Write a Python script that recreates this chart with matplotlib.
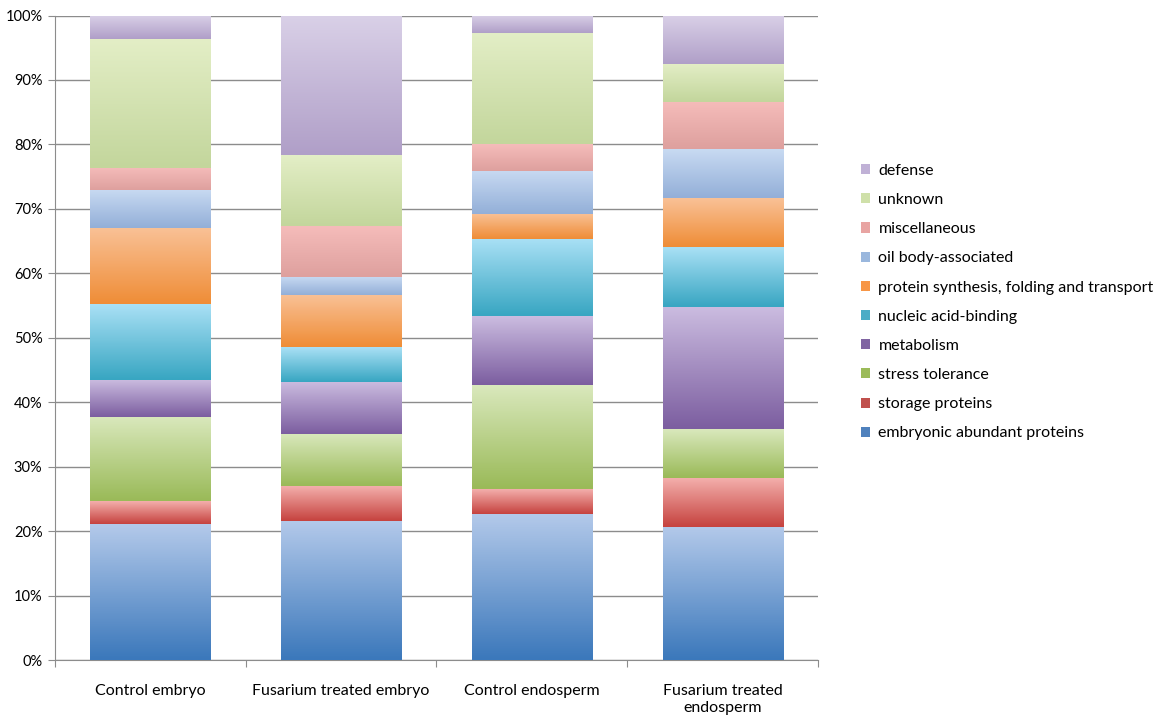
import numpy as np
import matplotlib.pyplot as plt
from matplotlib.colors import LinearSegmentedColormap
from matplotlib.patches import Patch

plt.rcParams['font.family'] = ['Lato', 'DejaVu Sans']

# --------------------------------------------------------
# Data (percent of proteins per functional class)
# --------------------------------------------------------
samples = ['Control embryo', 'Fusarium treated embryo',
           'Control endosperm', 'Fusarium treated\nendosperm']

classes = ['embryonic abundant proteins', 'storage proteins', 'stress tolerance',
           'metabolism', 'nucleic acid-binding',
           'protein synthesis, folding and transport', 'oil body-associated',
           'miscellaneous', 'unknown', 'defense']

embryonic = [21.1, 21.6, 22.7, 20.7]
storage = [3.5, 5.4, 3.8, 7.5]
stress = [13.1, 8.1, 16.1, 7.6]
metabolism = [5.8, 8.1, 10.7, 19.0]
nucleic = [11.7, 5.3, 12.0, 9.3]
protein_synth = [11.8, 8.1, 3.9, 7.6]
oil_body = [5.9, 2.8, 6.7, 7.6]
misc = [3.5, 7.9, 4.1, 7.3]
unknown = [20.0, 11.0, 17.3, 5.9]
defense = [3.6, 21.7, 2.7, 7.5]

series = [embryonic, storage, stress, metabolism, nucleic,
          protein_synth, oil_body, misc, unknown, defense]

# (top colour, bottom colour) for the Excel-like gradient fills
grad_colors = [
    ('#b3c9ea', '#3b78bb'),
    ('#f3aeab', '#c6433f'),
    ('#d9e8bc', '#9aba58'),
    ('#cbbce0', '#7c5ea0'),
    ('#a9e0f5', '#38a6c2'),
    ('#f9c196', '#ef8d37'),
    ('#c8daf2', '#93afd8'),
    ('#f5bcba', '#dea09e'),
    ('#e3eec6', '#c3d69c'),
    ('#d9d0e7', '#b09fc8'),
]
legend_colors = ['#4f81bd', '#c0504d', '#9bbb59', '#8064a2', '#4bacc6',
                 '#f79646', '#9ab7dd', '#e8a4a2', '#cfe0a9', '#c0b1d6']

# --------------------------------------------------------
# Plot
# --------------------------------------------------------
fig = plt.figure(figsize=(11.66, 7.21), dpi=100)
ax = fig.add_axes([0.0472, 0.0846, 0.6543, 0.8939])

x = np.arange(len(samples))
width = 0.63
bottom = np.zeros(len(samples))
for vals, (c_top, c_bot) in zip(series, grad_colors):
    bars = ax.bar(x, vals, width, bottom=bottom, color=c_bot, zorder=2)
    cmap = LinearSegmentedColormap.from_list('g', [c_bot, c_top])
    grad = np.linspace(0, 1, 64).reshape(-1, 1)
    for b in bars:
        x0, y0, w, h = b.get_x(), b.get_y(), b.get_width(), b.get_height()
        ax.imshow(grad, cmap=cmap, aspect='auto', origin='lower',
                  extent=[x0, x0 + w, y0, y0 + h], zorder=3)
    bottom += np.array(vals)

ax.set_xlim(-0.5, len(samples) - 0.5)
ax.set_ylim(0, 100)
ax.set_yticks(np.arange(0, 101, 10))
ax.set_yticklabels([f'{v}%' for v in range(0, 101, 10)])
ax.yaxis.grid(True, color='#8c8c8c', linewidth=1)
ax.set_axisbelow(True)

ax.set_xticks(np.arange(-0.5, len(samples), 1.0))
ax.set_xticklabels([])
ax.set_xticks(x, minor=True)
ax.set_xticklabels(samples, minor=True, fontsize=11.5, linespacing=1.35)
ax.tick_params(axis='x', which='minor', length=0, pad=17)
ax.tick_params(axis='x', which='major', length=5, color='#8c8c8c', direction='out')
ax.tick_params(axis='y', length=5, color='#8c8c8c', labelsize=10.5, pad=4)

for s in ['top', 'right']:
    ax.spines[s].set_visible(False)
for s in ['left', 'bottom']:
    ax.spines[s].set_color('#8c8c8c')

handles = [Patch(facecolor=c, edgecolor='none') for c in legend_colors]
ax.legend(handles[::-1], classes[::-1], loc='center left',
          bbox_to_anchor=(0.726, 0.581), bbox_transform=fig.transFigure,
          frameon=False, fontsize=11.5, handlelength=0.6, handleheight=0.6,
          handletextpad=0.5, labelspacing=0.95)

fig.savefig('out.png', dpi=100)
